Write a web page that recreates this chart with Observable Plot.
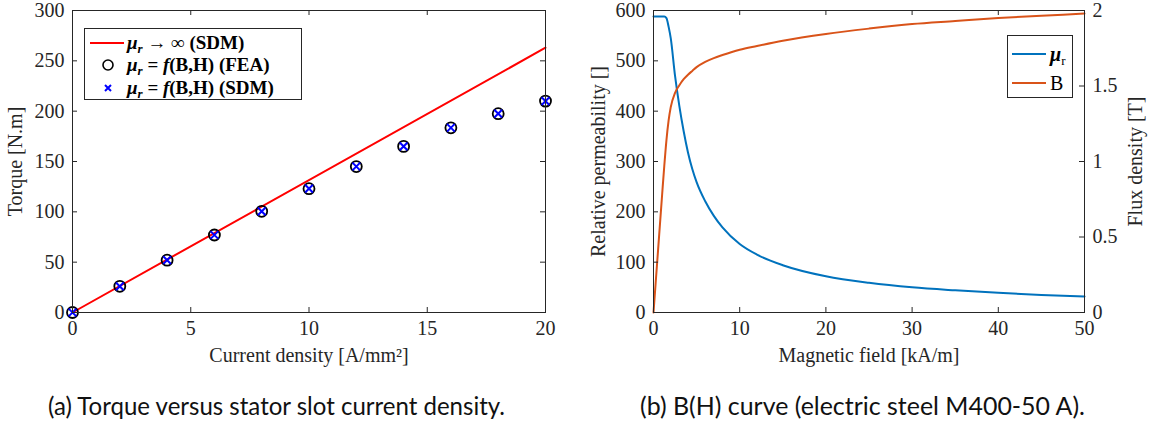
<!DOCTYPE html>
<html><head><meta charset="utf-8">
<script src="https://cdn.jsdelivr.net/npm/d3@7"></script>
<script src="https://cdn.jsdelivr.net/npm/@observablehq/plot@0.6"></script>
<style>
body{margin:0;background:#fff;}
#wrap{position:relative;width:1150px;height:423px;overflow:hidden;background:#fff;}
.chart{position:absolute;top:0;}
.legend{position:absolute;background:#fff;border:1px solid #262626;font-family:"Liberation Serif",serif;color:#000;box-sizing:border-box;}
.row{position:absolute;height:20px;line-height:20px;white-space:nowrap;}
.sample{position:absolute;}
.caption{position:absolute;top:390px;line-height:30px;font-family:Lato,sans-serif;font-size:25px;white-space:nowrap;transform-origin:left center;color:#111;}
</style></head><body><div id="wrap"></div>
<script>
// ---- (a) Torque vs current density ----
const currentDensity = [0, 2, 4, 6, 8, 10, 12, 14, 16, 18, 20];
const torqueFEA = [0, 26, 52, 77, 100.5, 123, 145, 165, 183.5, 197.5, 210];
const torqueSDM = [0, 26, 52, 77, 100.5, 123, 145, 165, 183.5, 197.5, 210];
const linearJ = [0, 20];
const linearTorque = [0, 263];
const torqueXTicks = [0, 5, 10, 15, 20];
const torqueYTicks = [0, 50, 100, 150, 200, 250, 300];

// ---- (b) B(H) curve ----
const fieldH = [0, 0.5, 1.0, 1.25, 1.5, 1.75, 2.0, 2.5, 3.0, 3.5, 4.0, 4.5, 5, 6, 7, 8, 10, 12, 15, 20, 25, 30, 35, 40, 45, 50];
const relPerm = [588, 588, 588, 588, 585, 568, 545, 470, 410, 360, 318, 285, 259, 221, 192, 169, 136, 115, 94, 72, 59, 50, 44, 39, 35, 32];
const fluxB = [0, 0.39, 0.78, 0.97, 1.14, 1.27, 1.36, 1.455, 1.505, 1.545, 1.575, 1.60, 1.625, 1.66, 1.685, 1.705, 1.74, 1.765, 1.80, 1.845, 1.88, 1.91, 1.93, 1.95, 1.965, 1.98];
const fieldXTicks = [0, 10, 20, 30, 40, 50];
const permTicks = [0, 100, 200, 300, 400, 500, 600];
const fluxTicks = [0, 0.5, 1, 1.5, 2];
const permMax = 600, fluxMax = 2;
const fluxToPerm = permMax / fluxMax;

const FONT = "Liberation Serif";
const INK = "#262626";
const H = 375, MT = 10, MB = 63;
const TICK = 5;

const wrap = document.getElementById("wrap");
const labelOpts = {text: d => d, fontSize: 20, fill: INK, textAnchor: "middle", lineAnchor: "middle"};

// Left chart
{
  const W = 575, ML = 72, MR = 30;
  const iw = W - ML - MR, ih = H - MT - MB;
  const pts = currentDensity.map((j, i) => ({j, fea: torqueFEA[i], sdm: torqueSDM[i]}));
  const lin = linearJ.map((j, i) => ({j, t: linearTorque[i]}));
  const svg = Plot.plot({
    width: W, height: H, marginLeft: ML, marginRight: MR, marginTop: MT, marginBottom: MB,
    style: {fontFamily: FONT, fontSize: "20px", color: INK, background: "transparent", overflow: "visible"},
    x: {domain: [0, 20]},
    y: {domain: [0, 300]},
    marks: [
      Plot.line(lin, {x: "j", y: "t", stroke: "#ff0000", strokeWidth: 2}),
      Plot.dot(pts, {x: "j", y: "fea", r: 5.5, stroke: "#000", strokeWidth: 1.8, fill: "none"}),
      Plot.dot(pts, {x: "j", y: "sdm", symbol: "times", r: 3.6, stroke: "#0000ff", strokeWidth: 2}),
      Plot.frame({stroke: INK}),
      Plot.tickX(torqueXTicks, {x: d => d, insetTop: ih - TICK, stroke: INK}),
      Plot.tickX(torqueXTicks, {x: d => d, insetBottom: ih - TICK, stroke: INK}),
      Plot.tickY(torqueYTicks, {y: d => d, insetRight: iw - TICK, stroke: INK}),
      Plot.tickY(torqueYTicks, {y: d => d, insetLeft: iw - TICK, stroke: INK}),
      Plot.axisX(torqueXTicks, {tickSize: 0, tickPadding: 8, label: null, fontSize: 20, fill: INK}),
      Plot.axisY(torqueYTicks, {tickSize: 0, tickPadding: 8, label: null, fontSize: 20, fill: INK}),
      Plot.text(["Current density [A/mm²]"], {...labelOpts, frameAnchor: "bottom", dy: 43}),
      Plot.text(["Torque [N.m]"], {...labelOpts, frameAnchor: "left", dx: -57, rotate: -90})
    ]
  });
  svg.classList.add("chart");
  svg.style.left = "0px";
  wrap.appendChild(svg);
}

// Right chart
{
  const X0 = 575, W = 575, ML = 78, MR = 66;
  const iw = W - ML - MR, ih = H - MT - MB;
  const rows = fieldH.map((h, i) => ({h, mu: relPerm[i], b: fluxB[i]}));
  const svg = Plot.plot({
    width: W, height: H, marginLeft: ML, marginRight: MR, marginTop: MT, marginBottom: MB,
    style: {fontFamily: FONT, fontSize: "20px", color: INK, background: "transparent", overflow: "visible"},
    x: {domain: [0, 50]},
    y: {domain: [0, permMax]},
    marks: [
      Plot.line(rows, {x: "h", y: "mu", stroke: "#0072BD", strokeWidth: 2, curve: "monotone-x"}),
      Plot.line(rows, {x: "h", y: d => d.b * fluxToPerm, stroke: "#D95319", strokeWidth: 2, curve: "monotone-x"}),
      Plot.frame({stroke: INK}),
      Plot.tickX(fieldXTicks, {x: d => d, insetTop: ih - TICK, stroke: INK}),
      Plot.tickX(fieldXTicks, {x: d => d, insetBottom: ih - TICK, stroke: INK}),
      Plot.tickY(permTicks, {y: d => d, insetRight: iw - TICK, stroke: INK}),
      Plot.tickY(fluxTicks, {y: d => d * fluxToPerm, insetLeft: iw - TICK, stroke: INK}),
      Plot.axisX(fieldXTicks, {tickSize: 0, tickPadding: 8, label: null, fontSize: 20, fill: INK}),
      Plot.axisY(permTicks, {tickSize: 0, tickPadding: 8, label: null, fontSize: 20, fill: INK}),
      Plot.axisY(fluxTicks.map(b => b * fluxToPerm), {anchor: "right", tickSize: 0, tickPadding: 8, label: null, fontSize: 20, fill: INK, tickFormat: d => String(d / fluxToPerm)}),
      Plot.text(["Magnetic field [kA/m]"], {...labelOpts, frameAnchor: "bottom", dy: 43}),
      Plot.text(["Relative permeability []"], {...labelOpts, frameAnchor: "left", dx: -55, rotate: -90}),
      Plot.text(["Flux density [T]"], {...labelOpts, frameAnchor: "right", dx: 51, rotate: -90})
    ]
  });
  svg.classList.add("chart");
  svg.style.left = X0 + "px";
  wrap.appendChild(svg);
}

// Legends
function legend(box, entries) {
  const d = document.createElement("div");
  d.className = "legend";
  Object.assign(d.style, {left: box.x + "px", top: box.y + "px", width: box.w + "px", height: box.h + "px"});
  for (const e of entries) {
    const s = document.createElementNS("http://www.w3.org/2000/svg", "svg");
    s.setAttribute("width", 40); s.setAttribute("height", 20);
    s.classList.add("sample");
    s.style.left = "3px"; s.style.top = (e.cy - 10) + "px";
    s.innerHTML = e.sample;
    d.appendChild(s);
    const r = document.createElement("div");
    r.className = "row";
    r.style.left = e.tx + "px"; r.style.top = (e.cy - 10) + "px";
    r.innerHTML = e.html;
    d.appendChild(r);
  }
  wrap.appendChild(d);
}
const sub = s => '<span style="font-size:13px;position:relative;top:4px">' + s + '</span>';
const mathMu = '<i>μ' + sub('r') + '</i>';
legend({x: 84, y: 28, w: 218, h: 72}, [
  {cy: 13.5, tx: 42, sample: '<line x1="2" x2="36" y1="10" y2="10" stroke="#ff0000" stroke-width="2"/>', html: '<b style="font-size:19px">' + mathMu + ' → ∞ (SDM)</b>'},
  {cy: 36, tx: 42, sample: '<circle cx="20" cy="10" r="5" fill="none" stroke="#000" stroke-width="1.6"/>', html: '<b style="font-size:19px">' + mathMu + ' = <i>f</i>(B,H) (FEA)</b>'},
  {cy: 58.5, tx: 42, sample: '<path d="M17,7L23,13M23,7L17,13" stroke="#0000ff" stroke-width="2"/>', html: '<b style="font-size:19px">' + mathMu + ' = <i>f</i>(B,H) (SDM)</b>'}
]);
legend({x: 1007, y: 35, w: 66, h: 63}, [
  {cy: 18, tx: 42, sample: '<line x1="1" x2="35" y1="10" y2="10" stroke="#0072BD" stroke-width="2"/>', html: '<span style="font-size:20px"><b><i>μ</i></b>' + sub('r') + '</span>'},
  {cy: 47, tx: 42, sample: '<line x1="1" x2="35" y1="10" y2="10" stroke="#D95319" stroke-width="2"/>', html: '<span style="font-size:20px">B</span>'}
]);

// Captions
function caption(text, cx, target) {
  const s = document.createElement("span");
  s.className = "caption";
  s.textContent = text;
  wrap.appendChild(s);
  const w = s.getBoundingClientRect().width;
  const k = target / w;
  s.style.left = (cx - target / 2) + "px";
  s.style.transform = `scaleX(${k})`;
}
caption("(a) Torque versus stator slot current density.", 276, 457);
caption("(b) B(H) curve (electric steel M400-50 A).", 862, 445);
</script>
</body></html>
